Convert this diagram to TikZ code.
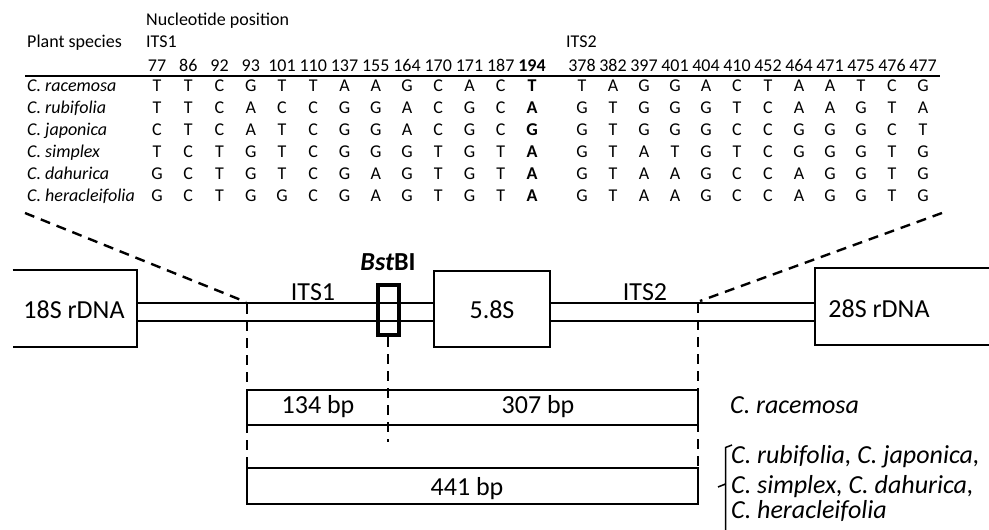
\documentclass[tikz,border=0pt]{standalone}
\usepackage{fontspec}
\setmainfont{Carlito}
\newcommand\seqrow[3]{%
  \node[seq,anchor=base west,font=\fontsize{18}{21}\selectfont\itshape] (sp-#2) at (27,#1) {C. #2};
  \foreach \l [count=\c] in {#3}{%
    \pgfmathsetmacro\xx{\c<14 ? 157+31.25*(\c-1) : 582+31*(\c-14)}%
    \node[seq] (#2-\c) at (\xx,#1) {\ifnum\c=13 \bfseries\fi\l};
  }}
\begin{document}
\begin{tikzpicture}[x=1pt,y=-1pt,
  seq/.style={anchor=base,inner sep=0pt,font=\fontsize{18}{21}\selectfont},
  big/.style={anchor=base,inner sep=0pt,font=\fontsize{26}{30}\selectfont},
  bigit/.style={big,anchor=base west,font=\fontsize{26}{30}\selectfont\itshape},
  ln/.style={line width=2pt},
  dsh/.style={line width=2.4pt,dash pattern=on 10pt off 7pt},
]
\useasboundingbox (0,0) rectangle (989,530);
% ---- table header
\node[seq,anchor=base west] (np) at (146,25) {Nucleotide position};
\node[seq,anchor=base west] (ps) at (27,47.6) {Plant species};
\node[seq,anchor=base west] (its1h) at (146,47.6) {ITS1};
\node[seq,anchor=base west] (its2h) at (566,47.6) {ITS2};
\foreach \n [count=\c] in {77,86,92,93,101,110,137,155,164,170,171,187,194,378,382,397,401,404,410,452,464,471,475,476,477}{%
  \pgfmathsetmacro\xx{\c<14 ? 157+31.25*(\c-1) : 582+31*(\c-14)}%
  \node[seq] (num-\c) at (\xx,71.6) {\ifnum\c=13 \bfseries\fi\n};
}
\coordinate (ruleL) at (25,76);
\coordinate (ruleR) at (940,76);
\draw[ln] (ruleL) -- (ruleR);
% ---- table rows
\seqrow{91.6}{racemosa}{T,T,C,G,T,T,A,A,G,C,A,C,T,T,A,G,G,A,C,T,A,A,T,C,G}
\seqrow{113.5}{rubifolia}{T,T,C,A,C,C,G,G,A,C,G,C,A,G,T,G,G,G,T,C,A,A,G,T,A}
\seqrow{135.4}{japonica}{C,T,C,A,T,C,G,G,A,C,G,C,G,G,T,G,G,G,C,C,G,G,G,C,T}
\seqrow{157.3}{simplex}{T,C,T,G,T,C,G,G,G,T,G,T,A,G,T,A,T,G,T,C,G,G,G,T,G}
\seqrow{179.2}{dahurica}{G,C,T,G,T,C,G,A,G,T,G,T,A,G,T,A,A,G,C,C,A,G,G,T,G}
\seqrow{201.1}{heracleifolia}{G,C,T,G,G,C,G,A,G,T,G,T,A,G,T,A,A,G,C,C,A,G,G,T,G}
% ---- gene map
\coordinate (a18tl) at (12.7,270);
\coordinate (a18tr) at (136.7,270);
\coordinate (a18br) at (136.7,347);
\coordinate (a18bl) at (12.7,347);
\draw[ln] (a18tl) -- (a18tr) -- (a18br) -- (a18bl);
\node[big] (l18) at (74,318) {18S rDNA};
\node[draw,ln,minimum width=116pt,minimum height=76pt,inner sep=0pt] (b58) at (492,309) {};
\node[big] (l58) at (492,318) {5.8S};
\coordinate (a28tr) at (995,268);
\coordinate (a28tl) at (815,268);
\coordinate (a28bl) at (815,345);
\coordinate (a28br) at (995,345);
\draw[ln] (a28tr) -- (a28tl) -- (a28bl) -- (a28br);
\node[big] (l28) at (879,317) {28S rDNA};
\coordinate (u1) at (136.7,303.3); \coordinate (u2) at (434,303.3);
\coordinate (d1) at (136.7,320.7); \coordinate (d2) at (434,320.7);
\coordinate (u3) at (550,303.3); \coordinate (u4) at (815,303.3);
\coordinate (d3) at (550,320.7); \coordinate (d4) at (815,320.7);
\draw[ln] (u1) -- (u2) (d1) -- (d2) (u3) -- (u4) (d3) -- (d4);
\node[big] (lits1) at (313,300) {ITS1};
\node[big] (lits2) at (645,300) {ITS2};
\node[draw,line width=3.5pt,minimum width=21pt,minimum height=50pt,inner sep=0pt] (bstbox) at (388.5,310) {};
\node[big] (bst) at (388,270) {\bfseries\itshape Bst\upshape BI};
% ---- zoom lines
\coordinate (zl1) at (25,213); \coordinate (zl2) at (246,302);
\coordinate (zr1) at (942,213); \coordinate (zr2) at (700,301);
\draw[dsh] (zl1) -- (zl2);
\draw[dsh] (zr1) -- (zr2);
% ---- fragments
\coordinate (f1tl) at (247,390); \coordinate (f1br) at (698,425);
\coordinate (f2tl) at (247,468); \coordinate (f2br) at (698,504);
\draw[ln] (f1tl) rectangle (f1br);
\draw[ln] (f2tl) rectangle (f2br);
\node[big] (b134) at (318,413) {134 bp};
\node[big] (b307) at (538,413) {307 bp};
\node[big] (b441) at (467,495) {441 bp};
\coordinate (vl1) at (247,304); \coordinate (vl2) at (247,506);
\coordinate (vr1) at (698,303); \coordinate (vr2) at (698,506);
\coordinate (vm1) at (388,337); \coordinate (vm2) at (388,442);
\draw[dsh] (vl1) -- (vl2);
\draw[dsh] (vr1) -- (vr2);
\draw[dsh] (vm1) -- (vm2);
% ---- species labels
\node[bigit] (cr) at (730,413) {C. racemosa};
\node[bigit] (o1) at (731,463.3) {C. rubifolia, C. japonica,};
\node[bigit] (o2) at (731,493.3) {C. simplex, C. dahurica,};
\node[bigit] (o3) at (731,518.3) {C. heracleifolia};
\coordinate (br1) at (732,445); \coordinate (br2) at (725.5,447.5);
\coordinate (br3) at (725.5,535); \coordinate (brm) at (725.5,484);
\coordinate (brt) at (718,487);
\draw[line width=1.5pt] (br1) -- (br2) -- (br3) (brm) -- (brt);
\end{tikzpicture}
\end{document}
